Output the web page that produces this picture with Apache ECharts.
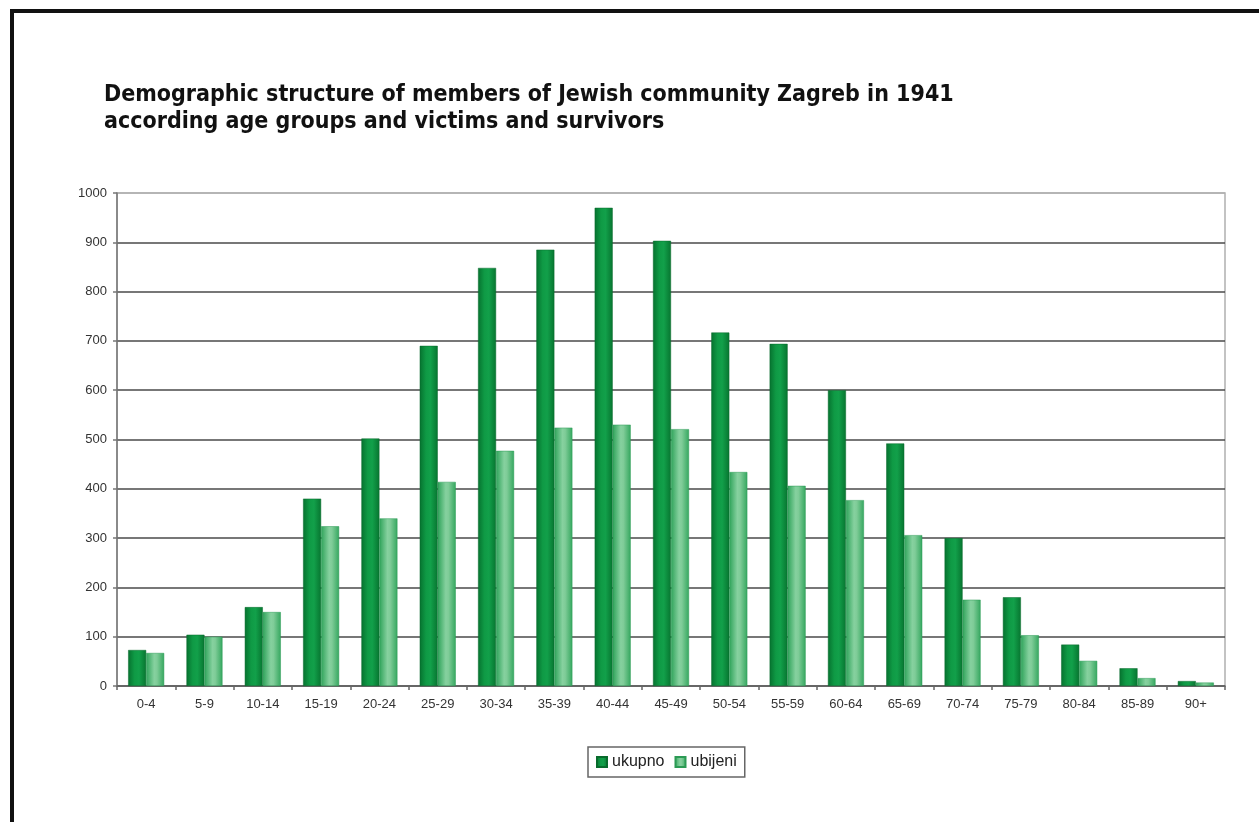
<!DOCTYPE html>
<html>
<head>
<meta charset="utf-8">
<script src="https://cdn.jsdelivr.net/npm/echarts@6/dist/echarts.min.js"></script>
<style>
html,body{margin:0;padding:0;background:#fff;}
#c{width:1259px;height:822px;}
</style>
</head>
<body>
<div id="c"></div>
<script>
const categories = ['0-4','5-9','10-14','15-19','20-24','25-29','30-34','35-39','40-44','45-49','50-54','55-59','60-64','65-69','70-74','75-79','80-84','85-89','90+'];
const ukupno = [73,104,160,380,502,690,848,885,970,903,717,694,600,492,300,180,84,36,10];
const ubijeni = [67,100,150,324,340,414,477,524,530,521,434,406,377,306,175,103,51,16,7];
const yTicks = [0,100,200,300,400,500,600,700,800,900,1000];

const chart = echarts.init(document.getElementById('c'), null, {renderer:'canvas'});
const darkGrad = new echarts.graphic.LinearGradient(0,0,1,0,[
  {offset:0,color:'#06722f'},{offset:0.35,color:'#0f9a45'},{offset:0.6,color:'#12a04a'},{offset:1,color:'#077530'}]);
const lightGrad = new echarts.graphic.LinearGradient(0,0,1,0,[
  {offset:0,color:'#2fa35a'},{offset:0.45,color:'#86d19f'},{offset:0.6,color:'#7fcc98'},{offset:1,color:'#35a75f'}]);
const splitColors = yTicks.map((v,i)=> i===yTicks.length-1 ? '#b0b0b0' : '#4a4a4a');

chart.setOption({
  animation:false,
  backgroundColor:'#fff',
  title:{
    text:'Demographic structure of members of Jewish community Zagreb in 1941\naccording age groups and victims and survivors',
    left:99, top:77,
    textStyle:{fontFamily:"'Liberation Sans Narrow','DejaVu Sans Condensed','Arial Narrow',sans-serif",fontWeight:'bold',fontSize:23,lineHeight:27,color:'#111'}
  },
  graphic:[
    {type:'line',shape:{x1:10,y1:11,x2:1259,y2:11},style:{stroke:'#111',lineWidth:4}},
    {type:'line',shape:{x1:12,y1:9,x2:12,y2:822},style:{stroke:'#111',lineWidth:4}}
  ],
  legend:{
    bottom:45, left:588,
    itemWidth:10, itemHeight:10, itemGap:10,
    padding:[7,8,7,8],
    borderColor:'#666', borderWidth:1.5,
    textStyle:{fontFamily:"'Liberation Sans',Arial,sans-serif",fontSize:16,color:'#222'},
    data:[{name:'ukupno',icon:'rect'},{name:'ubijeni',icon:'rect'}]
  },
  grid:{left:117,right:34,top:193,bottom:136,show:true,borderColor:'#b0b0b0',borderWidth:1.5},
  xAxis:{
    type:'category', data:categories,
    axisLine:{lineStyle:{color:'#666',width:1.5}},
    axisTick:{show:true,length:4,lineStyle:{color:'#666',width:1.5}},
    axisLabel:{fontFamily:"'Liberation Sans',Arial,sans-serif",fontSize:13,color:'#333',margin:12,interval:0}
  },
  yAxis:{
    type:'value', min:0, max:1000, interval:100,
    axisLine:{show:true,lineStyle:{color:'#777',width:1.5}},
    axisTick:{show:true,length:4,lineStyle:{color:'#777',width:1.5}},
    axisLabel:{fontFamily:"'Liberation Sans',Arial,sans-serif",fontSize:13,color:'#333',margin:10,formatter:(v)=>String(v)},
    splitLine:{show:true,lineStyle:{color:splitColors,width:1.6}}
  },
  series:[
    {name:'ukupno',type:'bar',data:ukupno,barWidth:18,barGap:'0%',itemStyle:{color:darkGrad,borderColor:'#086b2c',borderWidth:0.5}},
    {name:'ubijeni',type:'bar',data:ubijeni,barWidth:18,barGap:'0%',itemStyle:{color:lightGrad,borderColor:'#2b9a54',borderWidth:0.5}}
  ]
});
</script>
</body>
</html>
